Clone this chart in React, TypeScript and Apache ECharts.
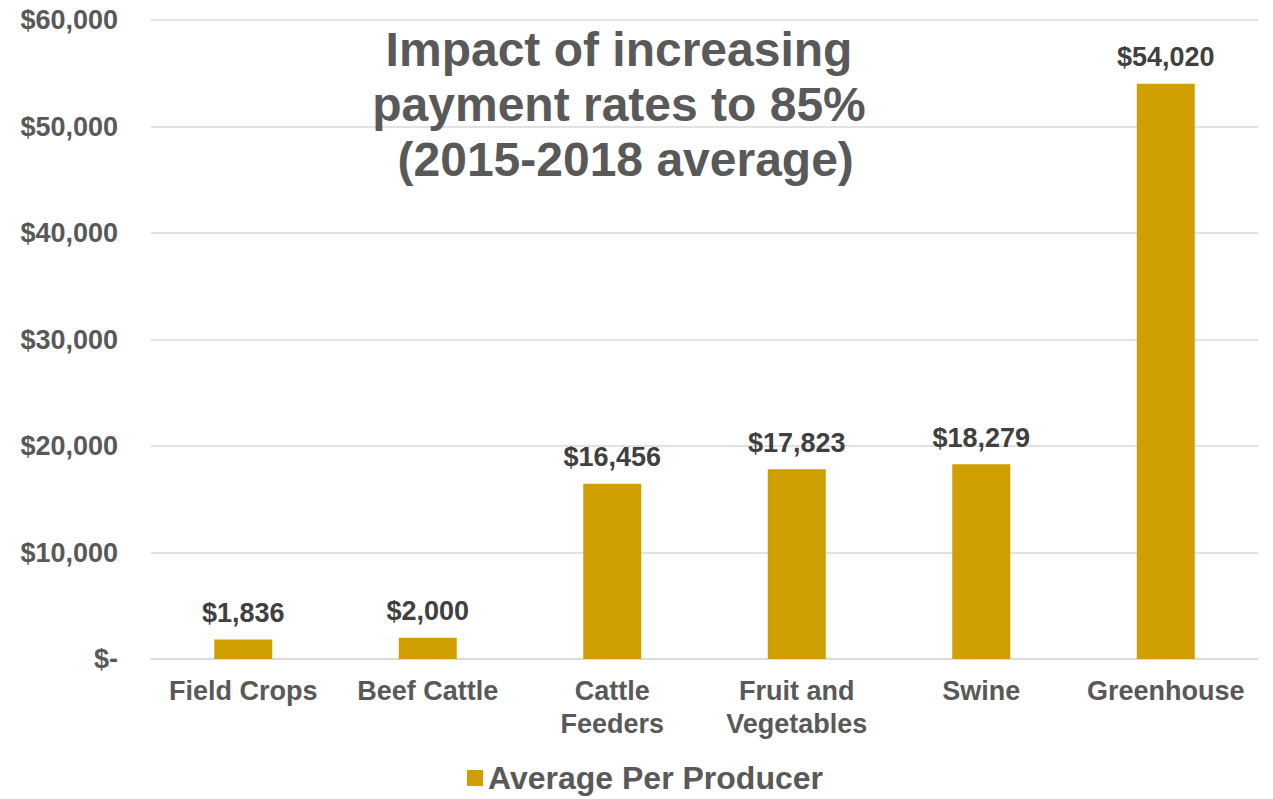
import React, { useEffect, useRef } from "react";
import * as echarts from "echarts";

const categories = ["Field Crops", "Beef Cattle", "Cattle\nFeeders", "Fruit and\nVegetables", "Swine", "Greenhouse"];
const values = [1836, 2000, 16456, 17823, 18279, 54020];
const seriesName = "Average Per Producer";
const titleText = "Impact of increasing\npayment rates to 85%\n (2015-2018 average)";

const fmt = (v: number) => (v === 0 ? "$-" : "$" + v.toLocaleString("en-US"));

export default function App() {
  const ref = useRef<HTMLDivElement>(null);
  useEffect(() => {
    const chart = echarts.init(ref.current!, null, { renderer: "svg" });
    const font = "'Liberation Sans', Arial, sans-serif";
    chart.setOption({
      animation: false,
      backgroundColor: "#ffffff",
      title: {
        text: titleText,
        left: 614,
        top: 17,
        textAlign: "center",
        textStyle: { fontFamily: font, fontSize: 48, fontWeight: "bold", color: "#595959", lineHeight: 55 },
      },
      legend: {
        data: [seriesName],
        bottom: 0,
        left: 462,
        itemWidth: 16,
        itemHeight: 16,
        itemGap: 8,
        icon: "rect",
        textStyle: { fontFamily: font, fontSize: 32, fontWeight: "bold", color: "#595959" },
      },
      grid: { left: 151, right: 15, top: 20, bottom: 140 },
      xAxis: {
        type: "category",
        data: categories,
        axisLine: { lineStyle: { color: "#d9d9d9", width: 1.5 } },
        axisTick: { show: false },
        axisLabel: {
          fontFamily: font,
          fontSize: 27,
          fontWeight: "bold",
          color: "#595959",
          lineHeight: 33,
          margin: 15,
          interval: 0,
        },
      },
      yAxis: {
        type: "value",
        min: 0,
        max: 60000,
        interval: 10000,
        axisLine: { show: false },
        axisTick: { show: false },
        splitLine: { lineStyle: { color: "#d9d9d9", width: 1.5 } },
        axisLabel: {
          fontFamily: font,
          fontSize: 27,
          fontWeight: "bold",
          color: "#595959",
          margin: 33,
          formatter: (v: number) => fmt(v),
        },
      },
      series: [
        {
          name: seriesName,
          type: "bar",
          data: values,
          barWidth: 58,
          itemStyle: { color: "#CF9F00" },
          label: {
            show: true,
            position: "top",
            distance: 13,
            fontFamily: font,
            fontSize: 27,
            fontWeight: "bold",
            color: "#404040",
            formatter: (p: any) => fmt(p.value),
          },
        },
      ],
    });
    return () => chart.dispose();
  }, []);
  return <div ref={ref} style={{ position: "fixed", left: 0, top: 0, width: 1273, height: 799 }} />;
}
